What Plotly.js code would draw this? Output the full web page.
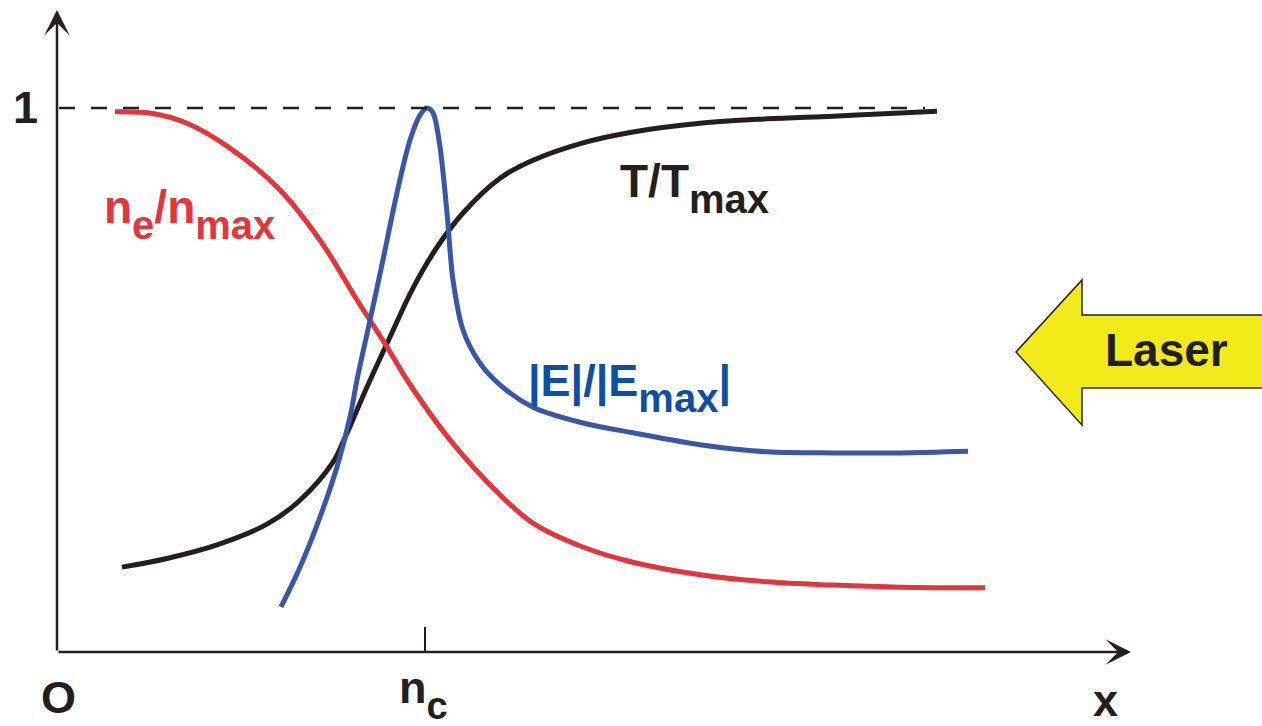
<!DOCTYPE html>
<html>
<head>
<meta charset="utf-8">
<script src="https://cdn.plot.ly/plotly-3.0.1.min.js"></script>
<style>
  html, body { margin: 0; padding: 0; background: #ffffff; }
  #chart { width: 1262px; height: 726px; }
</style>
</head>
<body>
<div id="chart"></div>
<script>
// Normalised profiles along x (arbitrary length units, origin at 0)
const densityX = [0.58, 0.96, 1.30, 1.70, 2.20, 2.63, 3.00, 3.30, 3.50, 3.93, 4.43, 4.76, 5.26, 5.76, 6.43, 7.10, 7.76, 8.43, 9.28];
const densityY = [0.993, 0.990, 0.972, 0.930, 0.855, 0.757, 0.647, 0.561, 0.500, 0.390, 0.289, 0.237, 0.193, 0.165, 0.142, 0.129, 0.123, 0.119, 0.118];

const tempX = [0.65, 1.10, 1.60, 2.10, 2.43, 2.76, 2.87, 3.10, 3.33, 3.56, 3.80, 4.06, 4.43, 4.76, 5.26, 5.76, 6.43, 7.10, 7.76, 8.43, 8.80];
const tempY = [0.156, 0.172, 0.197, 0.235, 0.279, 0.349, 0.390, 0.487, 0.579, 0.669, 0.744, 0.807, 0.871, 0.904, 0.936, 0.956, 0.972, 0.980, 0.985, 0.991, 0.994];

const fieldX = [2.24, 2.43, 2.63, 2.80, 2.93, 3.00, 3.13, 3.26, 3.40, 3.53, 3.63, 3.70, 3.76, 3.83, 3.90, 3.96, 4.06, 4.23, 4.43, 4.76, 5.26, 5.76, 6.43, 7.10, 7.76, 8.43, 9.11];
const fieldY = [0.083, 0.156, 0.248, 0.340, 0.432, 0.500, 0.610, 0.721, 0.844, 0.941, 0.987, 1.000, 0.991, 0.928, 0.807, 0.684, 0.592, 0.531, 0.491, 0.450, 0.421, 0.403, 0.381, 0.368, 0.366, 0.366, 0.369];

// Reference level and critical density position
const unitLevel = 1;
const criticalX = 3.68;

const INK = '#231F20';
const RED = '#E2363D';
const BLUE = '#3A56A6';
const BLUE_TEXT = '#0E4FA2';
const YELLOW = '#F3EA1C';
const FONT = '"Liberation Sans", Arial, Helvetica, sans-serif';

const traces = [
  { x: tempX, y: tempY, mode: 'lines', line: { color: INK, width: 5, shape: 'spline', smoothing: 1 }, hoverinfo: 'skip', showlegend: false },
  { x: densityX, y: densityY, mode: 'lines', line: { color: RED, width: 5, shape: 'spline', smoothing: 1 }, hoverinfo: 'skip', showlegend: false },
  { x: fieldX, y: fieldY, mode: 'lines', line: { color: BLUE, width: 5, shape: 'spline', smoothing: 0.9 }, hoverinfo: 'skip', showlegend: false }
];

// lowered, larger subscript than the default <sub>
function sub(t, size) {
  return '<sub><sub><span style="font-size:' + size + 'px">' + t + '</span></sub></sub>';
}

const annotations = [
  // axes with arrow heads
  { x: 0, y: 1.18, ax: 0, ay: 0, axref: 'x', ayref: 'y', xref: 'x', yref: 'y', text: '', showarrow: true,
    arrowhead: 3, arrowsize: 1.7, arrowwidth: 2.5, arrowcolor: INK, standoff: 0 },
  { x: 10.74, y: 0, ax: 0, ay: 0, axref: 'x', ayref: 'y', xref: 'x', yref: 'y', text: '', showarrow: true,
    arrowhead: 3, arrowsize: 1.7, arrowwidth: 2.5, arrowcolor: INK, standoff: 0 },
  // axis labels
  { x: -0.32, y: unitLevel, text: '<b>1</b>', showarrow: false, font: { family: FONT, size: 45, color: INK }, xanchor: 'center', yanchor: 'middle' },
  { x: 0.01, y: -0.083, text: '<b>O</b>', showarrow: false, font: { family: FONT, size: 45, color: INK }, xanchor: 'center', yanchor: 'middle' },
  { x: 10.48, y: -0.09, text: '<b>x</b>', showarrow: false, font: { family: FONT, size: 45, color: INK }, xanchor: 'center', yanchor: 'middle' },
  { x: 3.40, y: -0.078, text: '<b>n' + sub('c', 38) + '</b>', showarrow: false, font: { family: FONT, size: 45, color: INK }, xanchor: 'left', yanchor: 'middle' },
  // curve labels
  { x: 0.45, y: 0.805, text: '<b>n' + sub('e', 40) + '/n' + sub('max', 40) + '</b>', showarrow: false, font: { family: FONT, size: 46, color: RED }, xanchor: 'left', yanchor: 'middle' },
  { x: 5.61, y: 0.853, text: '<b>T/T' + sub('max', 40) + '</b>', showarrow: false, font: { family: FONT, size: 46, color: INK }, xanchor: 'left', yanchor: 'middle' },
  { x: 4.69, y: 0.487, text: '<b>|E|/|E' + sub('max', 40) + '|</b>', showarrow: false, font: { family: FONT, size: 45, color: BLUE_TEXT }, xanchor: 'left', yanchor: 'middle' },
  { x: 11.09, y: 0.555, text: '<b>Laser</b>', showarrow: false, font: { family: FONT, size: 46, color: INK }, xanchor: 'center', yanchor: 'middle' }
];

const shapes = [
  // dashed reference at unit level
  { type: 'line', xref: 'x', yref: 'y', x0: 0.02, x1: 8.68, y0: unitLevel, y1: unitLevel, line: { color: INK, width: 2.5, dash: '16px,16px' } },
  // tick mark at critical density
  { type: 'line', xref: 'x', yref: 'y', x0: criticalX, x1: criticalX, y0: 0, y1: 0.046, line: { color: INK, width: 2 } },
  // incoming laser arrow
  { type: 'path', xref: 'x', yref: 'y',
    path: 'M 9.59,0.5515 L 10.25,0.684 L 10.25,0.6195 L 12.4,0.6195 L 12.4,0.4853 L 10.25,0.4853 L 10.25,0.417 Z',
    fillcolor: YELLOW, line: { color: INK, width: 1.5 } }
];

const layout = {
  width: 1262, height: 726,
  margin: { l: 0, r: 0, t: 0, b: 0 },
  paper_bgcolor: '#ffffff', plot_bgcolor: '#ffffff',
  xaxis: { range: [-0.57, 12.05], visible: false, fixedrange: true },
  yaxis: { range: [-0.136, 1.1985], visible: false, fixedrange: true },
  annotations: annotations,
  shapes: shapes,
  showlegend: false
};

Plotly.newPlot('chart', traces, layout, { staticPlot: true, displayModeBar: false });
</script>
</body>
</html>
